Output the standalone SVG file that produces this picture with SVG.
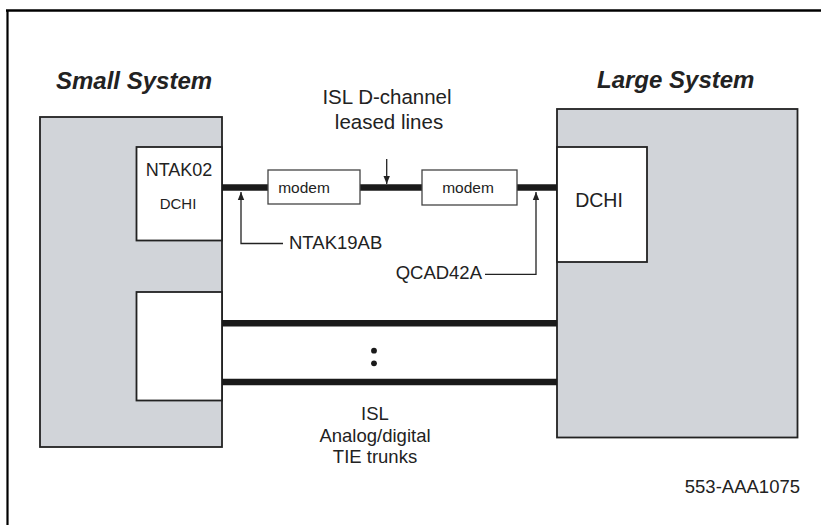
<svg xmlns="http://www.w3.org/2000/svg" width="821" height="525" viewBox="0 0 821 525">
<style>
  text { font-family: "Liberation Sans", Arial, sans-serif; fill: #222; }
  .title { font-size: 24px; font-weight: bold; font-style: italic; }
  .sys { fill: #d1d4d9; stroke: #222; stroke-width: 1.8; }
  .card { fill: #ffffff; stroke: #222; stroke-width: 1.8; }
  .modem { fill: #ffffff; stroke: #444; stroke-width: 1.3; }
  .thick { stroke: #1a1a1a; stroke-width: 6.5; fill: none; }
  .thin { stroke: #222; stroke-width: 1.3; fill: none; }
  .lbl { font-size: 18.5px; }
</style>
<defs>
  <marker id="ah" viewBox="0 0 10 10" refX="10" refY="5" markerWidth="8" markerHeight="8" markerUnits="userSpaceOnUse" orient="auto">
    <path d="M0,1 L10,5 L0,9 Z" fill="#222"/>
  </marker>
</defs>
<rect width="821" height="525" fill="#ffffff"/>
<g id="frame">
  <line x1="6" y1="10.5" x2="821" y2="10.5" stroke="#000" stroke-width="2.6"/>
  <line x1="7.5" y1="10" x2="7.5" y2="525" stroke="#000" stroke-width="2.2"/>
</g>

<g id="small-system">
  <rect class="sys" x="40" y="117" width="182" height="330"/>
  <text class="title" x="56" y="89">Small System</text>
</g>
<g id="ntak02">
  <rect class="card" x="136.5" y="147" width="85.5" height="93.5"/>
  <text x="179" y="176" font-size="18" text-anchor="middle">NTAK02</text>
  <text x="178" y="209" font-size="15" text-anchor="middle">DCHI</text>
</g>
<g id="small-trunk-card">
  <rect class="card" x="136.5" y="292" width="85.5" height="108.5"/>
</g>

<g id="large-system">
  <rect class="sys" x="557" y="109" width="240.5" height="328.5"/>
  <text class="title" x="597" y="88">Large System</text>
</g>
<g id="large-dchi">
  <rect class="card" x="557" y="147" width="90" height="115"/>
  <text x="599" y="207" font-size="19.5" text-anchor="middle">DCHI</text>
</g>

<g id="connectors">
  <line class="thick" x1="222" y1="187.5" x2="268" y2="187.5"/>
  <line class="thick" x1="360" y1="187.5" x2="422" y2="187.5"/>
  <line class="thick" x1="517" y1="187.5" x2="557" y2="187.5"/>
  <line class="thick" x1="222" y1="323.3" x2="557" y2="323.3"/>
  <line class="thick" x1="222" y1="382" x2="557" y2="382"/>
  <path class="thin" d="M386.7,159 V184" marker-end="url(#ah)"/>
  <path class="thin" d="M283,243.5 H241 V192" marker-end="url(#ah)"/>
  <path class="thin" d="M485,274.3 H536 V192" marker-end="url(#ah)"/>
</g>

<g id="modem1">
  <rect class="modem" x="268" y="170" width="92" height="34"/>
  <text x="304" y="193" font-size="15.5" text-anchor="middle">modem</text>
</g>
<g id="modem2">
  <rect class="modem" x="422" y="170" width="95" height="35"/>
  <text x="468" y="193" font-size="15.5" text-anchor="middle">modem</text>
</g>

<g id="labels">
  <text x="387" y="104" font-size="20.5" text-anchor="middle">ISL D-channel</text>
  <text x="389" y="129" font-size="20.5" text-anchor="middle">leased lines</text>
  <text class="lbl" x="289" y="248.5">NTAK19AB</text>
  <text class="lbl" x="482" y="278.5" text-anchor="end">QCAD42A</text>
  <circle cx="374" cy="350.7" r="2.9" fill="#1a1a1a"/>
  <circle cx="374" cy="363.3" r="2.9" fill="#1a1a1a"/>
  <text class="lbl" x="375" y="420" text-anchor="middle">ISL</text>
  <text class="lbl" x="375" y="441.5" text-anchor="middle">Analog/digital</text>
  <text class="lbl" x="375" y="463" text-anchor="middle">TIE trunks</text>
  <text class="lbl" x="800" y="493" text-anchor="end">553-AAA1075</text>
</g>
</svg>
